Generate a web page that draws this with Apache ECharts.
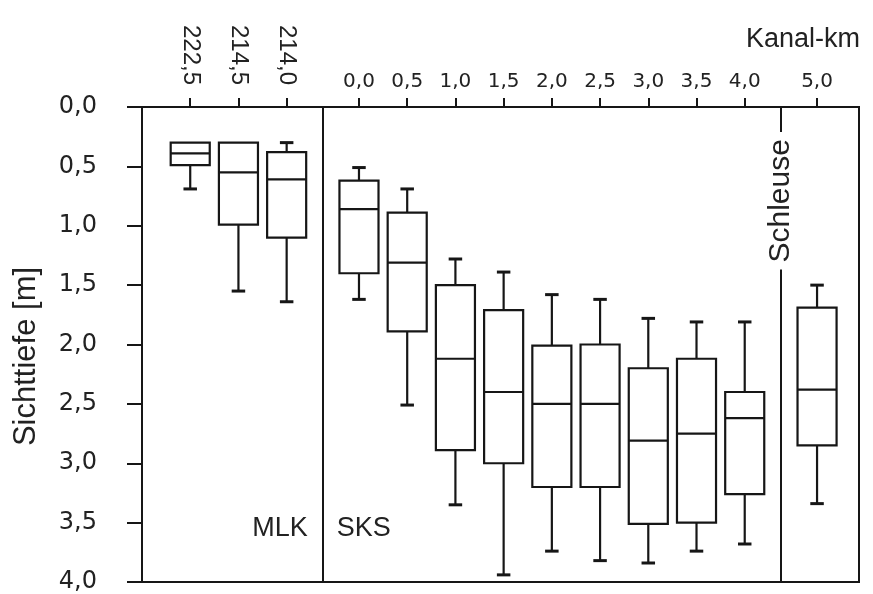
<!DOCTYPE html>
<html>
<head>
<meta charset="utf-8">
<script src="https://cdn.jsdelivr.net/npm/echarts@6/dist/echarts.min.js"></script>
<style>
html,body{margin:0;padding:0;background:#fff;}
#chart{width:873px;height:594px;}
</style>
</head>
<body>
<div id="chart"></div>
<script>
// ---- data ----
const kmLabels   = ['222,5','214,5','214,0','0,0','0,5','1,0','1,5','2,0','2,5','3,0','3,5','4,0','5,0'];
const sections   = ['MLK','MLK','MLK','SKS','SKS','SKS','SKS','SKS','SKS','SKS','SKS','SKS','SKS2'];
const whiskerTop = [0.30,0.30,0.30,0.51,0.69,1.28,1.39,1.58,1.62,1.78,1.81,1.81,1.50];
const q1         = [0.30,0.30,0.38,0.62,0.89,1.50,1.71,2.01,2.00,2.20,2.12,2.40,1.69];
const median     = [0.39,0.55,0.61,0.86,1.31,2.12,2.40,2.50,2.50,2.81,2.75,2.62,2.38];
const q3         = [0.49,0.99,1.10,1.40,1.89,2.89,3.00,3.20,3.20,3.51,3.50,3.26,2.85];
const whiskerBot = [0.69,1.55,1.64,1.62,2.51,3.35,3.94,3.74,3.82,3.84,3.74,3.68,3.34];
const yTickLabels = ['0,0','0,5','1,0','1,5','2,0','2,5','3,0','3,5','4,0'];

// ---- layout derived from sections (half-step gap between sections) ----
const positions = [];
const separators = [];
let p = 0;
sections.forEach((s, i) => {
  if (i > 0) {
    if (s !== sections[i - 1]) { p += 1.5; separators.push(p - 0.75); }
    else p += 1;
  }
  positions.push(p);
});
const labelByPos = {};
positions.forEach((v, i) => { labelByPos[v] = kmLabels[i]; });
const rotatedPos = positions.filter((v, i) => sections[i] === 'MLK');
const flatPos = positions.filter((v, i) => sections[i] !== 'MLK');

const seriesData = positions.map((x, i) => [x, whiskerTop[i], q1[i], median[i], q3[i], whiskerBot[i]]);

const INK = '#161616';
const xMin = -1, xMax = positions[positions.length - 1] + 0.87;

const chart = echarts.init(document.getElementById('chart'), null, {renderer: 'canvas'});

const option = {
  backgroundColor: '#fff',
  animation: false,
  grid: {left: 142, top: 107, width: 717, height: 480, show: true, borderColor: INK, borderWidth: 2, backgroundColor: 'transparent'},
  xAxis: [
    {
      type: 'value', position: 'top', min: xMin, max: xMax,
      axisLine: {show: true, onZero: false, lineStyle: {color: INK, width: 2}},
      axisTick: {show: true, customValues: flatPos, length: 9, lineStyle: {color: INK, width: 2}},
      axisLabel: {customValues: flatPos, formatter: v => labelByPos[v] || '', fontFamily: 'DejaVu Sans', fontSize: 20, color: '#222', margin: 15},
      splitLine: {show: false}
    },
    {
      type: 'value', position: 'top', min: xMin, max: xMax,
      axisLine: {show: false, onZero: false},
      axisTick: {show: true, customValues: rotatedPos, length: 9, lineStyle: {color: INK, width: 2}},
      axisLabel: {customValues: rotatedPos, rotate: 90, formatter: v => labelByPos[v] || '', fontFamily: 'Liberation Sans', fontSize: 24, color: '#222', margin: 22},
      splitLine: {show: false}
    }
  ],
  yAxis: {
    type: 'value', inverse: true, min: 0, max: 4, interval: 0.5,
    axisLine: {show: true, onZero: false, lineStyle: {color: INK, width: 2}},
    axisTick: {show: true, length: 15, lineStyle: {color: INK, width: 2}},
    axisLabel: {formatter: (v, i) => yTickLabels[Math.round(v / 0.5)], fontFamily: 'DejaVu Sans', fontSize: 24, color: '#222', margin: 45, padding: [0, 0, 8, 0]},
    splitLine: {show: false},
    name: 'Sichttiefe [m]', nameLocation: 'middle', nameGap: 100,
    nameTextStyle: {fontFamily: 'Liberation Sans', fontSize: 31, color: '#222', padding: [0, 24, 0, 0]}
  },
  series: [{
    type: 'custom',
    xAxisIndex: 0, yAxisIndex: 0,
    data: seriesData,
    encode: {x: 0, y: [1, 2, 3, 4, 5]},
    renderItem: function (params, api) {
      const x = api.value(0);
      const top = api.coord([x, api.value(1)]);
      const a = api.coord([x, api.value(2)]);
      const m = api.coord([x, api.value(3)]);
      const b = api.coord([x, api.value(4)]);
      const bot = api.coord([x, api.value(5)]);
      const unit = api.size([1, 0])[0];
      const hw = unit * 0.81 / 2;
      const cw = unit * 0.28;
      const cx = a[0];
      const ls = {stroke: INK, lineWidth: 2.2, fill: null};
      const cs = {stroke: INK, lineWidth: 3, fill: null};
      const children = [];
      if (top[1] < a[1] - 0.5) {
        children.push({type: 'line', shape: {x1: cx, y1: top[1], x2: cx, y2: a[1]}, style: ls});
        children.push({type: 'line', shape: {x1: cx - cw / 2, y1: top[1], x2: cx + cw / 2, y2: top[1]}, style: cs});
      }
      if (bot[1] > b[1] + 0.5) {
        children.push({type: 'line', shape: {x1: cx, y1: b[1], x2: cx, y2: bot[1]}, style: ls});
        children.push({type: 'line', shape: {x1: cx - cw / 2, y1: bot[1], x2: cx + cw / 2, y2: bot[1]}, style: cs});
      }
      children.push({type: 'rect', shape: {x: cx - hw, y: a[1], width: hw * 2, height: b[1] - a[1]}, style: {stroke: INK, lineWidth: 2.2, fill: '#fff'}});
      children.push({type: 'line', shape: {x1: cx - hw, y1: m[1], x2: cx + hw, y2: m[1]}, style: ls});
      return {type: 'group', children: children};
    },
    markLine: {
      silent: true, symbol: 'none', animation: false,
      label: {show: false},
      lineStyle: {color: INK, width: 2, type: 'solid'},
      data: separators.map(s => ({xAxis: s}))
    },
    z: 3
  }]
};
chart.setOption(option);

// text annotations placed through the axes' own scales
const toPx = (x, y) => chart.convertToPixel({xAxisIndex: 0, yAxisIndex: 0}, [x, y]);
const s1 = toPx(separators[0], 3.55);
const s2 = toPx(separators[1], 0.79);
const txt = {fontFamily: 'Liberation Sans', fill: '#222'};
chart.setOption({
  graphic: [
    {type: 'text', x: s1[0] - 15, y: s1[1], style: Object.assign({text: 'MLK', fontSize: 27, align: 'right', verticalAlign: 'middle'}, txt)},
    {type: 'text', x: s1[0] + 14, y: s1[1], style: Object.assign({text: 'SKS', fontSize: 27, align: 'left', verticalAlign: 'middle'}, txt)},
    {type: 'text', x: s2[0], y: s2[1], rotation: Math.PI / 2, z: 10,
      style: Object.assign({text: 'Schleuse', fontSize: 30, align: 'center', verticalAlign: 'middle', backgroundColor: '#fff', padding: [0, 7, 0, 7]}, txt)},
    {type: 'text', right: 13, top: 26, style: Object.assign({text: 'Kanal-km', fontSize: 27}, txt)}
  ]
});
</script>
</body>
</html>
